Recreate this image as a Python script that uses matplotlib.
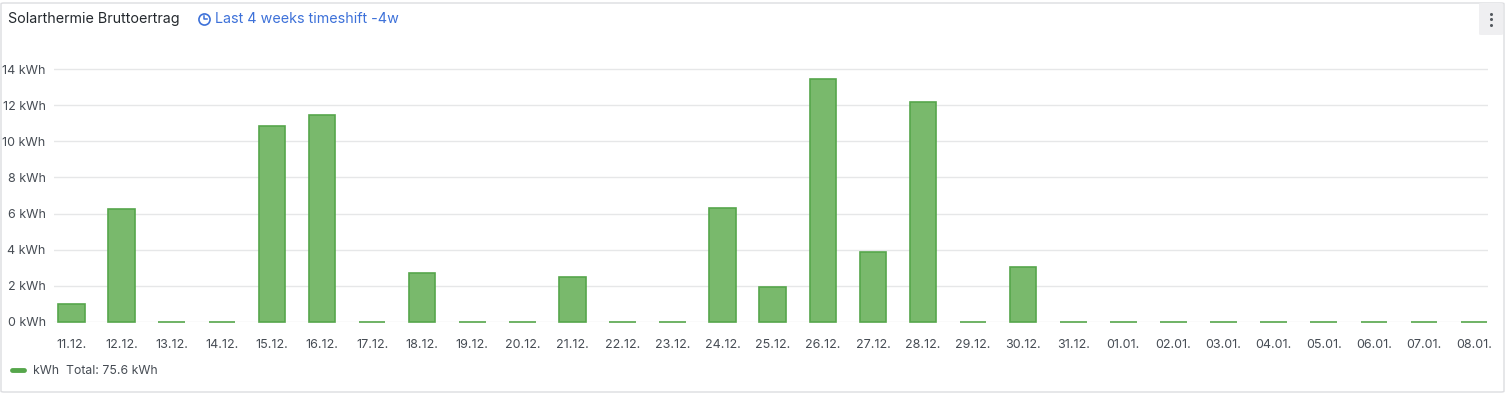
import matplotlib
matplotlib.use("Agg")
import matplotlib.pyplot as plt
from matplotlib.patches import FancyBboxPatch
from matplotlib.lines import Line2D

plt.rcParams['font.family'] = ['Inter', 'DejaVu Sans']

categories = ["11.12.", "12.12.", "13.12.", "14.12.", "15.12.", "16.12.", "17.12.",
              "18.12.", "19.12.", "20.12.", "21.12.", "22.12.", "23.12.", "24.12.",
              "25.12.", "26.12.", "27.12.", "28.12.", "29.12.", "30.12.", "31.12.",
              "01.01.", "02.01.", "03.01.", "04.01.", "05.01.", "06.01.", "07.01.", "08.01."]
values = [1.0, 6.25, 0, 0, 10.85, 11.45, 0, 2.7, 0, 0, 2.5, 0, 0, 6.3,
          1.95, 13.45, 3.88, 12.2, 0, 3.05, 0, 0, 0, 0, 0, 0, 0, 0, 0]
yticks = [0, 2, 4, 6, 8, 10, 12, 14]
title = "Solarthermie Bruttoertrag"
subtitle = "Last 4 weeks timeshift -4w"
legend_text = "kWh  Total: 75.6 kWh"

W, H = 1507, 394
fig = plt.figure(figsize=(W / 100, H / 100), dpi=100)

def fx(px):
    return px / W

def fy(py):
    return 1 - py / H

# panel border
fig.add_artist(FancyBboxPatch((fx(1), fy(392)), fx(1503), (389) / H,
                              boxstyle="round,pad=0,rounding_size=0.002",
                              transform=fig.transFigure, fc='white', ec='#dcdde0', lw=1,
                              zorder=-5))
# menu button
fig.add_artist(FancyBboxPatch((fx(1479), fy(35)), fx(24), 32 / H,
                              boxstyle="round,pad=0,rounding_size=0.002",
                              transform=fig.transFigure, fc='#efeff1', ec='none', zorder=-4))
for py in (13.5, 19, 24.5):
    fig.add_artist(Line2D([fx(1491)], [fy(py)], marker='o', ms=2.2, color='#555a60',
                          mew=0, transform=fig.transFigure))

# title
fig.text(fx(8), fy(19), title, fontsize=10.3, color='#24292e', va='center', ha='left')
# clock icon
fig.add_artist(Line2D([fx(204)], [fy(18.5)], marker='o', ms=8, mfc='none', mec='#3d71d9',
                      mew=1.2, transform=fig.transFigure))
fig.add_artist(Line2D([fx(204), fx(204), fx(206.5)], [fy(15.5), fy(18.5), fy(18.5)],
                      color='#3d71d9', lw=1.1, transform=fig.transFigure))
fig.text(fx(215), fy(19), subtitle, fontsize=10.3, color='#3d71d9', va='center', ha='left')

# axes
ax = fig.add_axes([fx(54), fy(322), fx(1488 - 54), (322 - 51) / H])
ax.set_facecolor('none')
x = list(range(len(categories)))
bars = ax.bar(x, values, width=0.53, color='#79b96c', edgecolor='#56a64b', linewidth=1.2,
              zorder=3)
for b in bars:
    b.set_clip_on(False)
ax.set_xlim(-0.35, len(categories) - 1 + 0.28)
ax.set_ylim(0, 15)
ax.set_yticks(yticks)
ax.set_yticklabels([f"{v} kWh" for v in yticks])
ax.set_xticks(x)
ax.set_xticklabels(categories)
ax.grid(axis='y', color='#e6e7e8', lw=1, zorder=0)
for s in ax.spines.values():
    s.set_visible(False)
ax.tick_params(axis='both', length=0, labelsize=9, colors='#464c54')
ax.tick_params(axis='y', pad=6)
ax.tick_params(axis='x', pad=12)

# legend
fig.add_artist(Line2D([fx(12), fx(24)], [fy(370), fy(370)], color='#56a64b', lw=3.5,
                      solid_capstyle='round', transform=fig.transFigure))
fig.text(fx(33), fy(370.5), legend_text, fontsize=8.8, color='#464c54', va='center', ha='left')

fig.savefig("out.png", dpi=100)
